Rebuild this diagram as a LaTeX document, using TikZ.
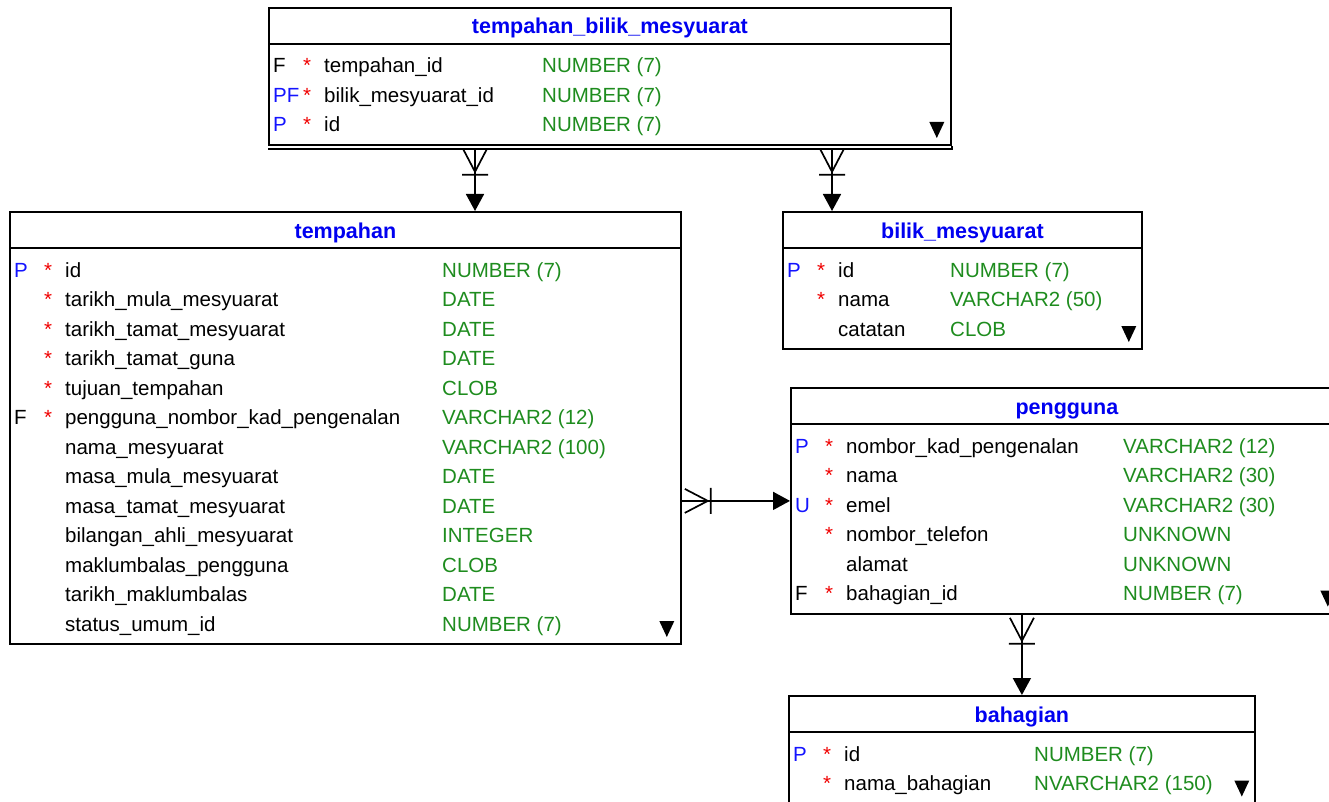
\documentclass[tikz,border=0pt]{standalone}
\usepackage{fontspec}
\setmainfont{Liberation Sans}
\usetikzlibrary{calc,arrows.meta}

\definecolor{titleblue}{RGB}{0,0,240}
\definecolor{keyblue}{RGB}{20,20,255}
\definecolor{typegreen}{RGB}{30,140,30}
\definecolor{starred}{RGB}{240,0,0}

\newcommand{\pk}[1]{\textcolor{keyblue}{#1}}
% rows of a table: #1 table node, #2 width of the name column, #3 key/star/name/type
\newcommand{\tblrows}[3]{%
  \foreach \fkey/\fstar/\fname/\ftype [count=\i] in {#3}
    \node[fld] (#1-\i) at ($(#1.north west)+(5,66+29.5*\i-29.5)$)
      {\makebox[30pt][l]{\fkey}\makebox[21pt][l]{\textcolor{starred}{\fstar}}\makebox[#2pt][l]{\fname}\textcolor{typegreen}{\ftype}};}

\begin{document}
\begin{tikzpicture}[x=1pt,y=-1pt,
    tbl/.style={draw, line width=1.8pt, anchor=north west, inner sep=0pt},
    title/.style={anchor=base, inner sep=0pt, text=titleblue, font=\fontsize{21.5}{24}\selectfont\bfseries},
    fld/.style={anchor=base west, inner sep=0pt, font=\fontsize{20.5}{24}\selectfont},
    rel/.style={line width=1.7pt, -{Triangle[length=17pt,width=18pt]}},
    crowfoot/.pic={\draw[line width=1.7pt] (-12,3) -- (0,26) -- (12,3) (-13,29) -- (13,29);},
    more/.pic={\fill (-7.5,-8) -- (7.5,-8) -- (0,8) -- cycle;}]
  \clip (0,0) rectangle (1329,802);

  % tables
  \node[tbl, minimum width=682pt, minimum height=137pt] (tbm) at (268,7) {};
  \node[tbl, minimum width=671pt, minimum height=432pt] (tmp) at (9,211) {};
  \node[tbl, minimum width=359pt, minimum height=137pt] (blk) at (782,211) {};
  \node[tbl, minimum width=552pt, minimum height=226pt] (pgn) at (790,387) {};
  \node[tbl, minimum width=466pt, minimum height=130pt] (bhg) at (788,695) {};
  \draw[line width=1.8pt] ($(tbm.south west)+(0,3.5)$) -- ($(tbm.south east)+(0,3.5)$) -- (tbm.south east);

  \foreach \tb/\ttl in {tbm/tempahan\_bilik\_mesyuarat, tmp/tempahan, blk/bilik\_mesyuarat,
      pgn/pengguna, bhg/bahagian} {
    \node[title] (\tb-title) at ($(\tb.north)+(0,27)$) {\ttl};
    \draw[line width=1.8pt] ($(\tb.north west)+(0,37)$) -- ($(\tb.north east)+(0,37)$);
  }

  \tblrows{tbm}{218}{F/*/tempahan\_id/NUMBER (7), \pk{PF}/*/bilik\_mesyuarat\_id/NUMBER (7),
    \pk{P}/*/id/NUMBER (7)}
  \tblrows{tmp}{377}{\pk{P}/*/id/NUMBER (7), {}/*/tarikh\_mula\_mesyuarat/DATE,
    {}/*/tarikh\_tamat\_mesyuarat/DATE, {}/*/tarikh\_tamat\_guna/DATE,
    {}/*/tujuan\_tempahan/CLOB, F/*/pengguna\_nombor\_kad\_pengenalan/VARCHAR2 (12),
    {}/{}/nama\_mesyuarat/VARCHAR2 (100), {}/{}/masa\_mula\_mesyuarat/DATE,
    {}/{}/masa\_tamat\_mesyuarat/DATE, {}/{}/bilangan\_ahli\_mesyuarat/INTEGER,
    {}/{}/maklumbalas\_pengguna/CLOB, {}/{}/tarikh\_maklumbalas/DATE,
    {}/{}/status\_umum\_id/NUMBER (7)}
  \tblrows{blk}{112}{\pk{P}/*/id/NUMBER (7), {}/*/nama/VARCHAR2 (50), {}/{}/catatan/CLOB}
  \tblrows{pgn}{277}{\pk{P}/*/nombor\_kad\_pengenalan/VARCHAR2 (12), {}/*/nama/VARCHAR2 (30),
    \pk{U}/*/emel/VARCHAR2 (30), {}/*/nombor\_telefon/UNKNOWN, {}/{}/alamat/UNKNOWN,
    F/*/bahagian\_id/NUMBER (7)}
  \tblrows{bhg}{190}{\pk{P}/*/id/NUMBER (7), {}/*/nama\_bahagian/NVARCHAR2 (150)}

  % more columns marks
  \pic at ($(tbm.east |- tbm-3.base)+(-15,-2)$) {more};
  \pic at ($(tmp.east |- tmp-13.base)+(-15,-2)$) {more};
  \pic at ($(blk.east |- blk-3.base)+(-14,-2)$) {more};
  \pic at ($(pgn.east |- pgn-6.base)+(-16,-2)$) {more};
  \pic at ($(bhg.east |- bhg-2.base)+(-14,-2)$) {more};

  % relations
  \coordinate (c1) at (475,0);
  \coordinate (c2) at (832,0);
  \draw[rel] ($(c1 |- tbm.south)+(0,3)$) -- (c1 |- tmp.north);
  \pic at (c1 |- tbm.south) {crowfoot};
  \draw[rel] ($(c2 |- tbm.south)+(0,3)$) -- (c2 |- blk.north);
  \pic at (c2 |- tbm.south) {crowfoot};
  \draw[rel] (tmp.east |- pgn.west) -- (pgn.west);
  \pic[rotate=90] at (tmp.east |- pgn.west) {crowfoot};
  \draw[rel] (bhg.north |- pgn.south) -- (bhg.north);
  \pic at (bhg.north |- pgn.south) {crowfoot};
\end{tikzpicture}
\end{document}
